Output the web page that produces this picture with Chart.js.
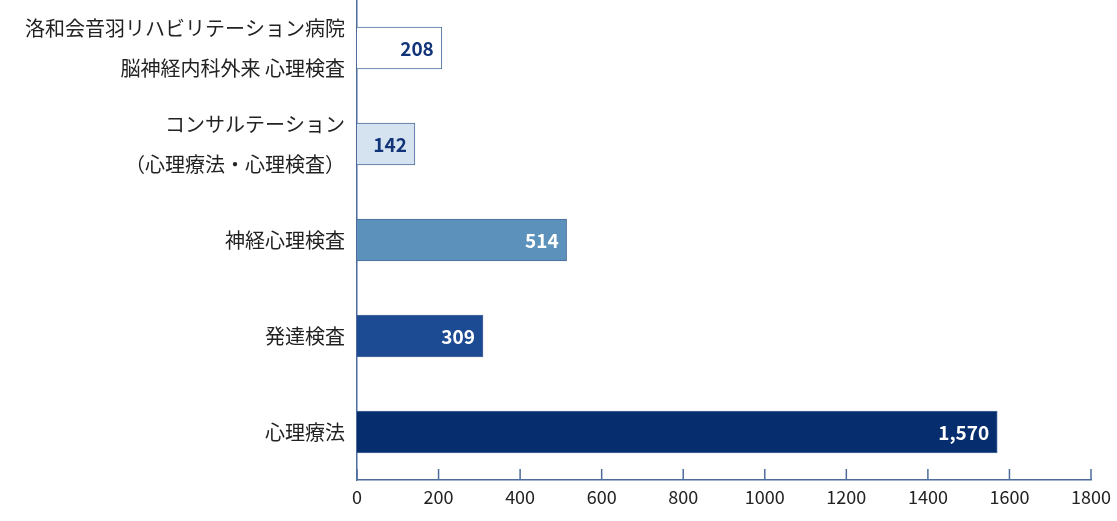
<!DOCTYPE html>
<html><head><meta charset="utf-8">
<script src="https://cdn.jsdelivr.net/npm/chart.js@4/dist/chart.umd.min.js"></script>
<style>body{margin:0;background:#fff}#wrap{width:1117px;height:521px}</style>
</head><body><div id="wrap"><canvas id="c"></canvas></div>
<script>
const categories = [
  ['洛和会音羽リハビリテーション病院', '脳神経内科外来 心理検査'],
  ['コンサルテーション', '（心理療法・心理検査）'],
  '神経心理検査',
  '発達検査',
  '心理療法'
];
const counts = [208, 142, 514, 309, 1570];
const barColors = ['#ffffff', '#d5e2ef', '#5b91ba', '#1c4b93', '#062d6e'];
const labelColors = ['#12357a', '#12357a', '#ffffff', '#ffffff', '#ffffff'];
const axisColor = '#4d6c9c';
const font = "'Noto Sans CJK JP', 'Noto Sans', sans-serif";

const insideTicks = {
  id: 'insideTicks',
  afterDraw(chart) {
    const x = chart.scales.x, ctx = chart.ctx, b = chart.chartArea.bottom;
    ctx.save();
    ctx.strokeStyle = axisColor; ctx.lineWidth = 1.5;
    x.ticks.forEach(t => {
      const px = x.getPixelForValue(t.value);
      ctx.beginPath(); ctx.moveTo(px, b); ctx.lineTo(px, b - 11); ctx.stroke();
    });
    ctx.restore();
  }
};
const valueLabels = {
  id: 'valueLabels',
  afterDatasetsDraw(chart) {
    const ctx = chart.ctx;
    ctx.save();
    ctx.font = "bold 19px " + font;
    ctx.textAlign = 'right'; ctx.textBaseline = 'middle';
    chart.getDatasetMeta(0).data.forEach((bar, i) => {
      ctx.fillStyle = labelColors[i];
      ctx.fillText(counts[i].toLocaleString('en-US'), bar.x - 8, bar.y + 1);
    });
    ctx.restore();
  }
};

new Chart(document.getElementById('c'), {
  type: 'bar',
  data: {
    labels: categories,
    datasets: [{
      data: counts,
      backgroundColor: barColors,
      borderColor: axisColor,
      borderWidth: 1,
      borderSkipped: 'left',
      barThickness: 42
    }]
  },
  plugins: [insideTicks, valueLabels],
  options: {
    indexAxis: 'y',
    responsive: true,
    maintainAspectRatio: false,
    animation: false,
    layout: { padding: { top: 0, right: 26, left: 0, bottom: 0 } },
    plugins: { legend: { display: false }, tooltip: { enabled: false } },
    scales: {
      x: {
        min: 0, max: 1800,
        ticks: { stepSize: 200, color: '#222', font: { family: font, size: 18 }, padding: 6,
                 callback: v => String(v) },
        grid: { display: false, drawTicks: false },
        border: { color: axisColor, width: 1.5 },
        afterFit: s => { s.height = 41; }
      },
      y: {
        ticks: { color: '#222', font: { family: font, size: 20, lineHeight: 2 }, padding: 12, autoSkip: false },
        grid: { display: false, drawTicks: false },
        border: { color: axisColor, width: 1.5 },
        afterFit: s => { s.paddingTop = 0; s.paddingBottom = 0; s.width = 357; }
      }
    }
  }
});
</script></body></html>
